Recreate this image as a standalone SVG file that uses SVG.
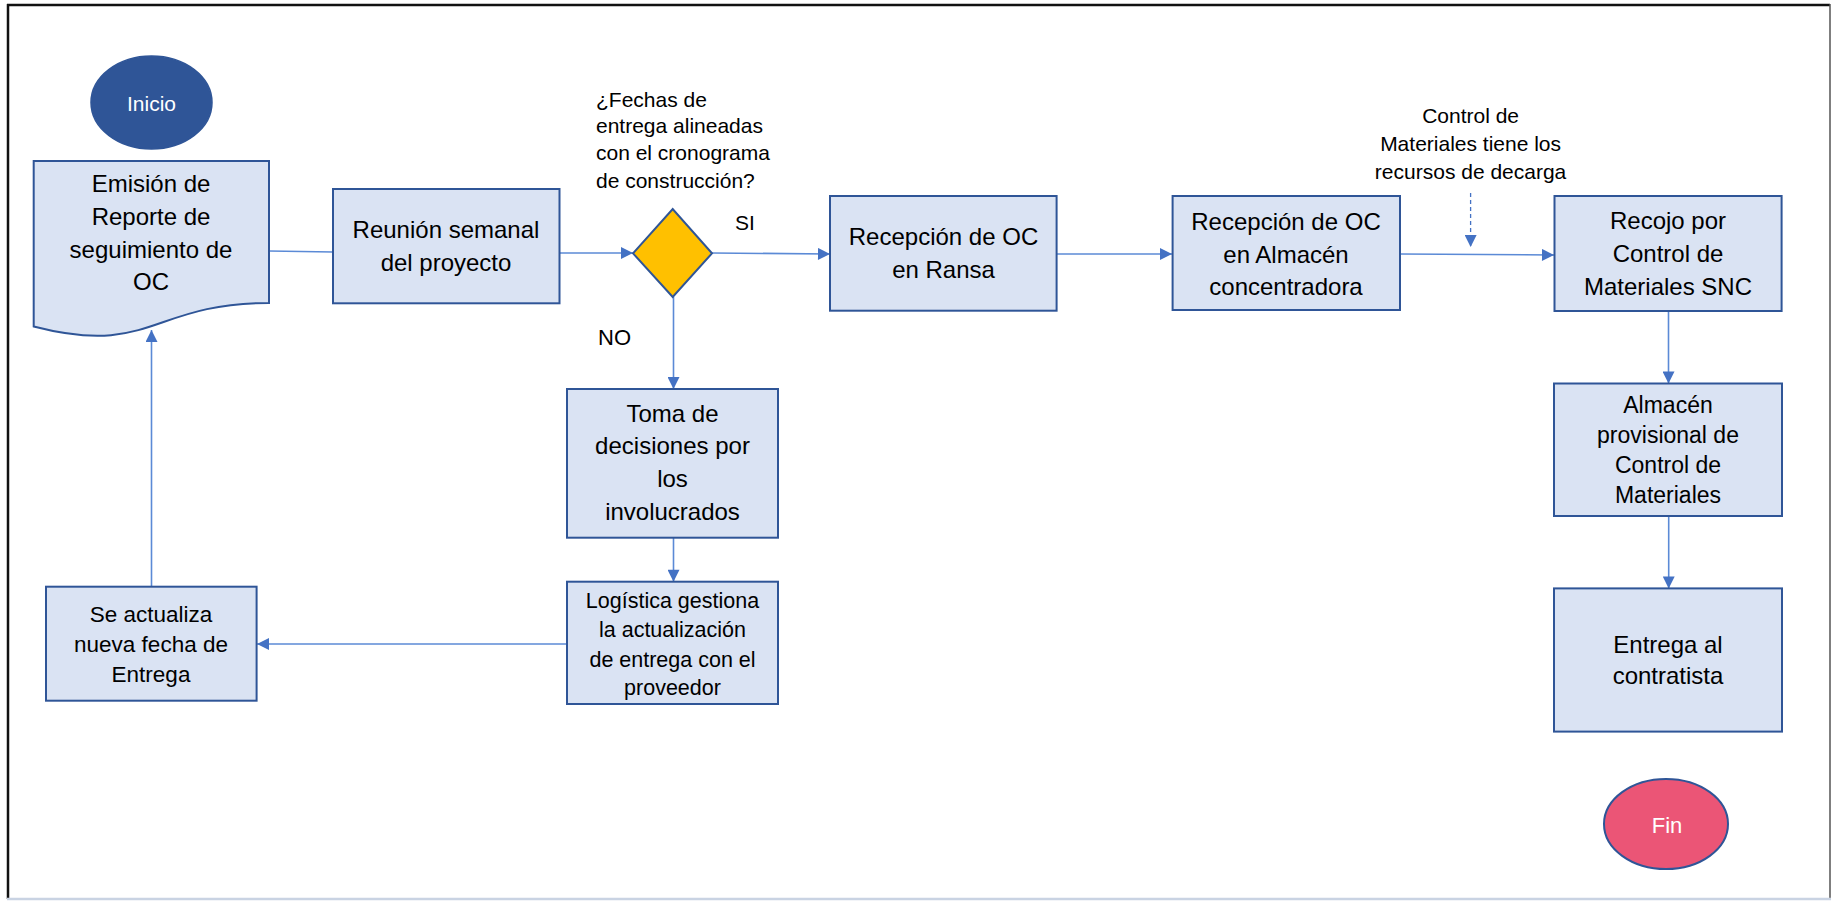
<svg xmlns="http://www.w3.org/2000/svg" width="1832" height="901" viewBox="0 0 1832 901">
<style>
  text { font-family: "Liberation Sans", Arial, sans-serif; fill: #000; }
  .box { fill: #dae3f3; stroke: #2f5597; stroke-width: 2; }
  .lbl { text-anchor: middle; font-size: 24px; }
  .con { fill: none; stroke: #5b8ad6; stroke-width: 1.6; }
  .dash { fill: none; stroke: #4472c4; stroke-width: 1.3; stroke-dasharray: 4 3; }
  .white { fill: #ffffff; text-anchor: middle; }
</style>
<defs>
  <marker id="arr" viewBox="0 0 12 12" refX="12" refY="6" markerWidth="13" markerHeight="12" markerUnits="userSpaceOnUse" orient="auto">
    <path d="M0,0 L12,6 L0,12 z" fill="#4472c4"/>
  </marker>
</defs>
<rect x="0" y="0" width="1832" height="901" fill="#ffffff"/>
<!-- frame -->
<g id="frame">
  <line x1="7" y1="5" x2="1830" y2="5" stroke="#111" stroke-width="2.5"/>
  <line x1="8" y1="4" x2="8" y2="899" stroke="#111" stroke-width="2.5"/>
  <line x1="1830" y1="4" x2="1830" y2="899" stroke="#555" stroke-width="1.5"/>
  <line x1="7" y1="899" x2="1831" y2="899" stroke="#c9d3e3" stroke-width="2.5"/>
</g>
<g id="connectors">
  <line class="con" x1="269" y1="251" x2="333" y2="252"/>
  <line class="con" x1="559" y1="253" x2="633" y2="253" marker-end="url(#arr)"/>
  <line class="con" x1="712" y1="253" x2="830" y2="254" marker-end="url(#arr)"/>
  <line class="con" x1="1057" y1="254" x2="1172" y2="254" marker-end="url(#arr)"/>
  <line class="con" x1="1400" y1="254" x2="1554" y2="255" marker-end="url(#arr)"/>
  <line class="dash" x1="1470.6" y1="193" x2="1470.6" y2="247" marker-end="url(#arr)"/>
  <line class="con" x1="1668.5" y1="311" x2="1668.5" y2="383.5" marker-end="url(#arr)"/>
  <line class="con" x1="1668.7" y1="516" x2="1668.7" y2="588.4" marker-end="url(#arr)"/>
  <line class="con" x1="673.5" y1="297" x2="673.5" y2="389" marker-end="url(#arr)"/>
  <line class="con" x1="673.5" y1="537.7" x2="673.5" y2="581.7" marker-end="url(#arr)"/>
  <line class="con" x1="567" y1="644" x2="257" y2="644" marker-end="url(#arr)"/>
  <line class="con" x1="151.5" y1="586.7" x2="151.5" y2="330" marker-end="url(#arr)"/>
</g>
<g id="inicio">
  <ellipse cx="151.5" cy="102.5" rx="60.5" ry="46.5" fill="#2f5597" stroke="#2f5597" stroke-width="1.5"/>
  <text class="white" x="151.5" y="111" font-size="21">Inicio</text>
</g>
<g id="emision">
  <path class="box" d="M33.7,161 H269 V303 C151.3,303 151.3,357 33.7,326.5 Z"/>
  <text class="lbl"><tspan x="151" y="192">Emisión de</tspan><tspan x="151" y="225">Reporte de</tspan><tspan x="151" y="258">seguimiento de</tspan><tspan x="151" y="290">OC</tspan></text>
</g>
<g id="reunion">
  <rect class="box" x="333" y="189" width="226.5" height="114.3"/>
  <text class="lbl"><tspan x="446" y="238">Reunión semanal</tspan><tspan x="446" y="271">del proyecto</tspan></text>
</g>
<g id="decision">
  <polygon points="633,253.3 672.7,209 712,253.3 672.7,297" fill="#ffc000" stroke="#2f5597" stroke-width="2"/>
  <text font-size="21"><tspan x="596" y="106.7">¿Fechas de</tspan><tspan x="596" y="133.3">entrega alineadas</tspan><tspan x="596" y="160">con el cronograma</tspan><tspan x="596" y="188">de construcción?</tspan></text>
  <text x="745" y="230" font-size="21" text-anchor="middle">SI</text>
  <text x="598" y="345" font-size="22">NO</text>
</g>
<g id="ransa">
  <rect class="box" x="830" y="196" width="226.6" height="114.7"/>
  <text class="lbl"><tspan x="943.5" y="245">Recepción de OC</tspan><tspan x="943.5" y="278">en Ransa</tspan></text>
</g>
<g id="almacen-concentradora">
  <rect class="box" x="1172.6" y="196" width="227.4" height="114"/>
  <text class="lbl"><tspan x="1286" y="230">Recepción de OC</tspan><tspan x="1286" y="262.7">en Almacén</tspan><tspan x="1286" y="295">concentradora</tspan></text>
</g>
<g id="nota-control">
  <text text-anchor="middle" font-size="21"><tspan x="1470.6" y="123">Control de</tspan><tspan x="1470.6" y="151">Materiales tiene los</tspan><tspan x="1470.6" y="178.7">recursos de decarga</tspan></text>
</g>
<g id="recojo">
  <rect class="box" x="1554.5" y="196" width="227.1" height="115"/>
  <text class="lbl"><tspan x="1668" y="229">Recojo por</tspan><tspan x="1668" y="262">Control de</tspan><tspan x="1668" y="295">Materiales SNC</tspan></text>
</g>
<g id="almacen-provisional">
  <rect class="box" x="1554" y="383.5" width="228" height="132.5"/>
  <text class="lbl" font-size="23" style="font-size:23px"><tspan x="1668" y="412.5">Almacén</tspan><tspan x="1668" y="442.8">provisional de</tspan><tspan x="1668" y="472.8">Control de</tspan><tspan x="1668" y="502.5">Materiales</tspan></text>
</g>
<g id="entrega">
  <rect class="box" x="1554" y="588.4" width="228" height="143.2"/>
  <text class="lbl"><tspan x="1668" y="652.6">Entrega al</tspan><tspan x="1668" y="684.4">contratista</tspan></text>
</g>
<g id="fin">
  <ellipse cx="1666" cy="824" rx="62" ry="45" fill="#eb5576" stroke="#2f5597" stroke-width="2"/>
  <text class="white" x="1667" y="832.7" font-size="22">Fin</text>
</g>
<g id="toma">
  <rect class="box" x="567" y="389" width="211" height="148.7"/>
  <text class="lbl"><tspan x="672.5" y="421.7">Toma de</tspan><tspan x="672.5" y="454.3">decisiones por</tspan><tspan x="672.5" y="486.7">los</tspan><tspan x="672.5" y="520">involucrados</tspan></text>
</g>
<g id="logistica">
  <rect class="box" x="567" y="581.7" width="211" height="122.3"/>
  <text class="lbl" style="font-size:21.5px"><tspan x="672.5" y="608.3">Logística gestiona</tspan><tspan x="672.5" y="637.3">la actualización</tspan><tspan x="672.5" y="666.7">de entrega con el</tspan><tspan x="672.5" y="695">proveedor</tspan></text>
</g>
<g id="actualiza">
  <rect class="box" x="46" y="586.7" width="210.6" height="114"/>
  <text class="lbl" style="font-size:22.5px"><tspan x="151" y="621.7">Se actualiza</tspan><tspan x="151" y="651.7">nueva fecha de</tspan><tspan x="151" y="681.7">Entrega</tspan></text>
</g>
</svg>
